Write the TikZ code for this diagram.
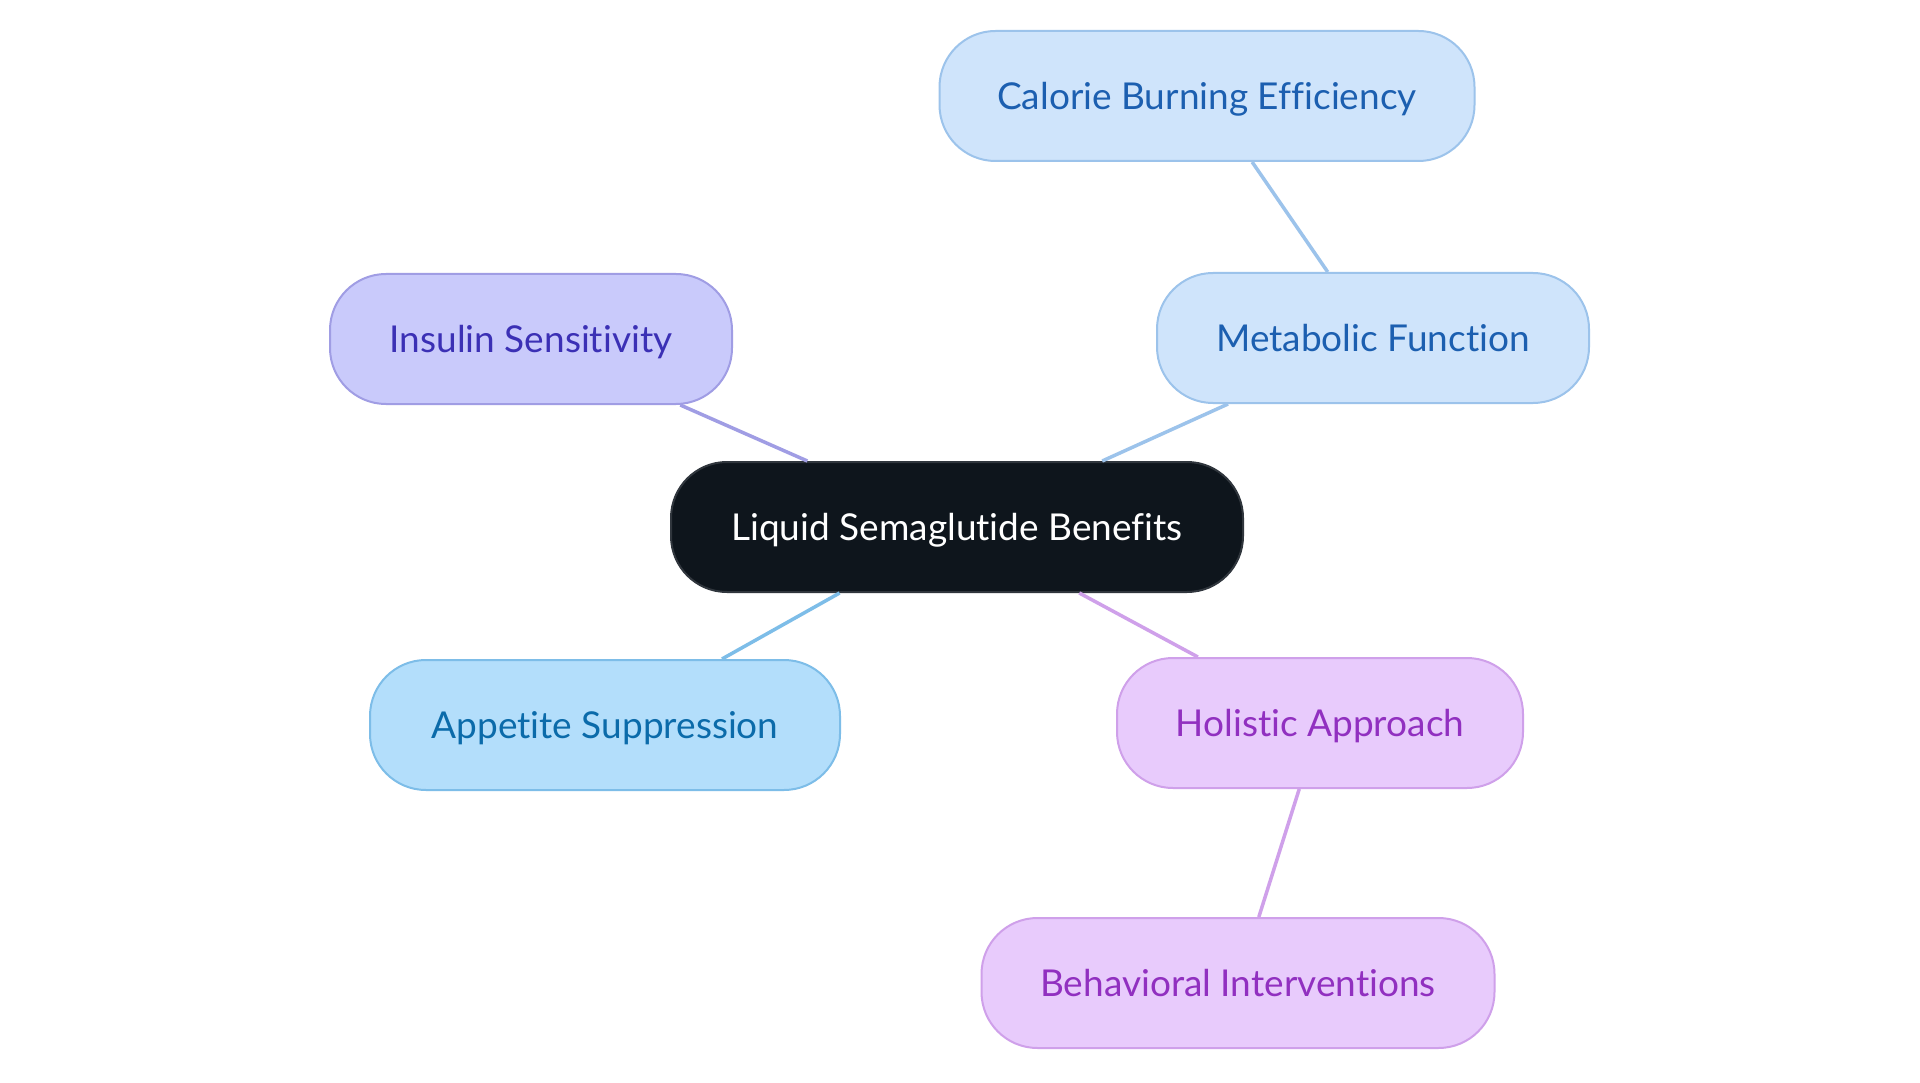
\documentclass[tikz,border=0pt]{standalone}
\usepackage{fontspec}
\setmainfont{Lato}[Ligatures=NoCommon]
\usepackage{tikz}

\definecolor{darkFill}{HTML}{0E151C}
\definecolor{darkLine}{HTML}{30363D}
\definecolor{blueFill}{HTML}{CFE4FB}
\definecolor{blueLine}{HTML}{9CC3EB}
\definecolor{blueText}{HTML}{1C5FB0}
\definecolor{skyFill}{HTML}{B3DEFB}
\definecolor{skyLine}{HTML}{7DBDE8}
\definecolor{skyText}{HTML}{0B6BAA}
\definecolor{violetFill}{HTML}{C9CAFB}
\definecolor{violetLine}{HTML}{A09DE4}
\definecolor{violetText}{HTML}{3B30B5}
\definecolor{purpleFill}{HTML}{E8CBFC}
\definecolor{purpleLine}{HTML}{CFA0EA}
\definecolor{purpleText}{HTML}{9130C0}

\begin{document}
\begin{tikzpicture}[x=1pt,y=-1pt,
  pill/.style={draw,line width=2pt,rounded corners=56pt,minimum height=130pt,
    inner sep=0pt,text height=35pt,text depth=8pt,font=\fontsize{37}{44}\selectfont},
  rootpill/.style={pill,fill=darkFill,draw=darkLine,text=white},
  bluepill/.style={pill,fill=blueFill,draw=blueLine,text=blueText},
  skypill/.style={pill,fill=skyFill,draw=skyLine,text=skyText},
  violetpill/.style={pill,fill=violetFill,draw=violetLine,text=violetText},
  purplepill/.style={pill,fill=purpleFill,draw=purpleLine,text=purpleText},
  link/.style={line width=3.5pt}]
\useasboundingbox[fill=white] (0,0) rectangle (1920,1083);

\node[rootpill,minimum width=572pt] (benefits) at (957,527) {Liquid Semaglutide Benefits};
\node[violetpill,minimum width=402pt] (insulin) at (531,339) {Insulin Sensitivity};
\node[bluepill,minimum width=432pt] (metabolic) at (1373,338) {Metabolic Function};
\node[bluepill,minimum width=535pt] (calorie) at (1207,96) {Calorie Burning Efficiency};
\node[skypill,minimum width=470pt] (appetite) at (605,725) {Appetite Suppression};
\node[purplepill,minimum width=406pt] (holistic) at (1320,723) {Holistic Approach};
\node[purplepill,minimum width=513pt] (behavioral) at (1238,983) {Behavioral Interventions};

\draw[link,violetLine] (benefits) -- (insulin);
\draw[link,blueLine] (benefits) -- (metabolic);
\draw[link,blueLine] (metabolic) -- (calorie);
\draw[link,skyLine] (benefits) -- (appetite);
\draw[link,purpleLine] (benefits) -- (holistic);
\draw[link,purpleLine] (holistic) -- (behavioral);
\end{tikzpicture}
\end{document}
